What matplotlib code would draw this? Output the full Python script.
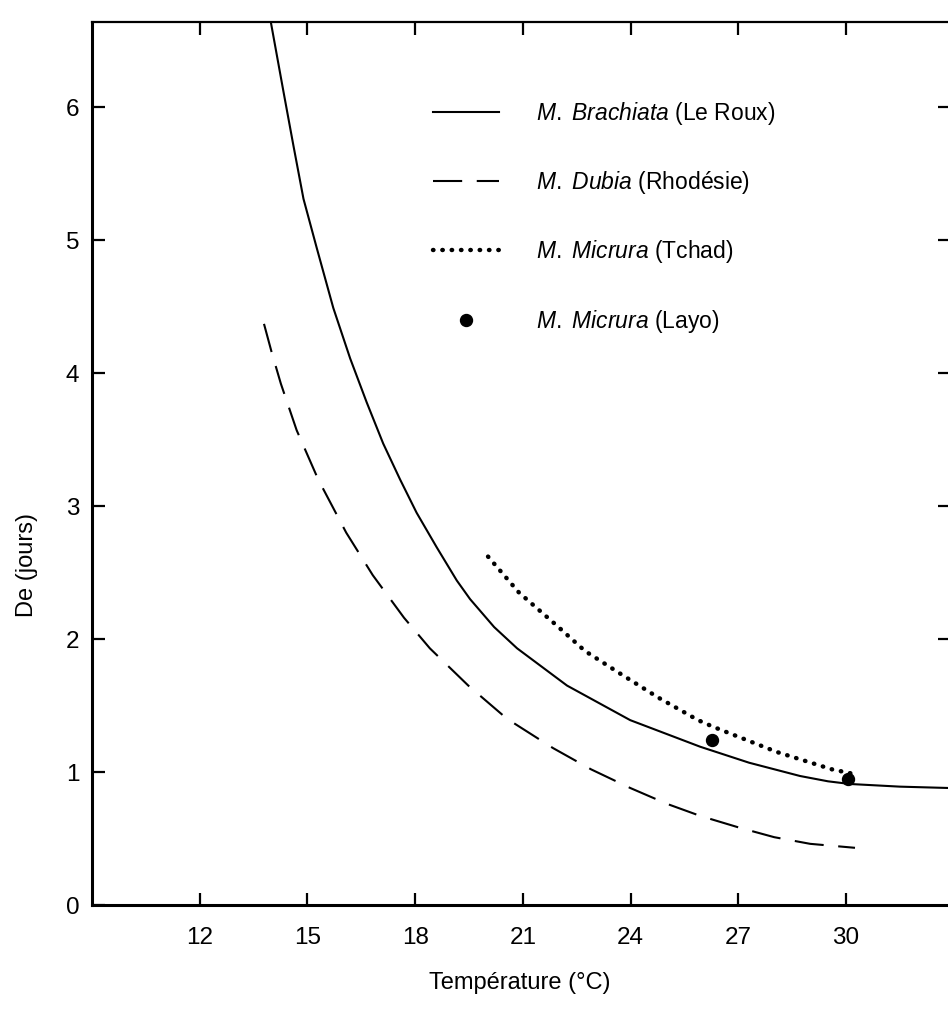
import numpy as np
import matplotlib
matplotlib.use("Agg")
import matplotlib.pyplot as plt

plt.rcParams["font.family"] = ["Liberation Sans", "DejaVu Sans"]
plt.rcParams["mathtext.fontset"] = "custom"
plt.rcParams["mathtext.rm"] = "Liberation Sans"
plt.rcParams["mathtext.it"] = "Liberation Sans:italic"

# M. Brachiata (Le Roux) - solid curve
brach_t = [13.98, 14.33, 14.61, 14.89, 15.26, 15.72, 16.19, 16.65, 17.11, 17.58,
           18.04, 18.60, 19.16, 19.53, 20.20, 20.84, 22.23, 23.99, 25.94, 27.30,
           28.72, 29.50, 30.11, 31.50, 32.84]
brach_d = [6.64, 6.12, 5.71, 5.31, 4.94, 4.49, 4.11, 3.78, 3.47, 3.20,
           2.95, 2.69, 2.44, 2.30, 2.09, 1.93, 1.65, 1.39, 1.19, 1.07,
           0.97, 0.93, 0.91, 0.89, 0.88]

# M. Dubia (Rhodesie) - dashed curve
dubia_t = [13.79, 14.00, 14.26, 14.70, 15.30, 16.08, 16.82, 17.69, 18.41, 19.48,
           20.56, 21.84, 22.90, 23.99, 25.02, 25.94, 27.05, 28.00, 29.00, 30.25]
dubia_d = [4.37, 4.16, 3.92, 3.57, 3.20, 2.80, 2.48, 2.16, 1.93, 1.65,
           1.40, 1.18, 1.02, 0.88, 0.76, 0.67, 0.58, 0.51, 0.46, 0.43]

# M. Micrura (Tchad) - dotted curve
tchad_t = [20.03, 20.89, 21.95, 22.73, 23.71, 24.77, 25.88, 26.30, 28.08, 29.61, 30.31]
tchad_d = [2.62, 2.35, 2.10, 1.91, 1.74, 1.56, 1.39, 1.34, 1.15, 1.02, 0.98]

# M. Micrura (Layo) - measured points
layo_t = [26.27, 30.06]
layo_d = [1.24, 0.95]

x_ticks = [12, 15, 18, 21, 24, 27, 30]
y_ticks = [0, 1, 2, 3, 4, 5, 6]
right_ticks = [2, 3, 4, 5, 6]

labels = [r"$\mathit{M.}$ $\mathit{Brachiata}$ (Le Roux)",
          r"$\mathit{M.}$ $\mathit{Dubia}$ (Rhodésie)",
          r"$\mathit{M.}$ $\mathit{Micrura}$ (Tchad)",
          r"$\mathit{M.}$ $\mathit{Micrura}$ (Layo)"]

fig = plt.figure(figsize=(9.48, 10.14), dpi=100)
ax = fig.add_axes([92 / 948, 1 - 905 / 1014, 1 - 92 / 948, (905 - 22) / 1014])

l1, = ax.plot(brach_t, brach_d, color="black", lw=1.5)
l2, = ax.plot(dubia_t, dubia_d, color="black", lw=1.5, linestyle=(0, (14, 7)))
l3, = ax.plot(tchad_t, tchad_d, color="black", lw=3.2, linestyle=(0, (0.1, 2.0)),
              dash_capstyle="round")
l4, = ax.plot(layo_t, layo_d, "o", color="black", markersize=8.6, linestyle="none")

ax.set_xlim(9, 32.84)
ax.set_ylim(0, 6.64)

ax.set_xticks(x_ticks)
ax.set_yticks(y_ticks)
ax.tick_params(axis="both", direction="in", length=9, width=1.6, labelsize=17.5,
               color="black")
ax.tick_params(axis="x", pad=16, top=True)
ax.tick_params(axis="y", pad=9)

# ticks on the right edge (no spine drawn there)
ax2 = ax.twinx()
ax2.set_ylim(ax.get_ylim())
ax2.set_yticks(right_ticks)
ax2.tick_params(axis="y", direction="in", length=7, width=1.6, labelright=False)
for s in ["left", "right", "top", "bottom"]:
    ax2.spines[s].set_visible(False)

ax.spines["right"].set_visible(False)
ax.spines["left"].set_linewidth(2.2)
ax.spines["bottom"].set_linewidth(2.2)
ax.spines["top"].set_linewidth(1.6)

ax.set_xlabel("Température (°C)", fontsize=17)
ax.xaxis.set_label_coords(0.5, -0.076)
ax.set_ylabel("De (jours)", fontsize=17)
ax.yaxis.set_label_coords(-0.063, 0.385)

leg = ax.legend([l1, l2, l3, l4], labels, loc="upper left",
                bbox_to_anchor=(0.398, 0.912), frameon=False, fontsize=16.5,
                handlelength=2.9, handletextpad=1.6, labelspacing=1.85,
                borderpad=0, borderaxespad=0, numpoints=1)

fig.savefig("out.png", dpi=100)
